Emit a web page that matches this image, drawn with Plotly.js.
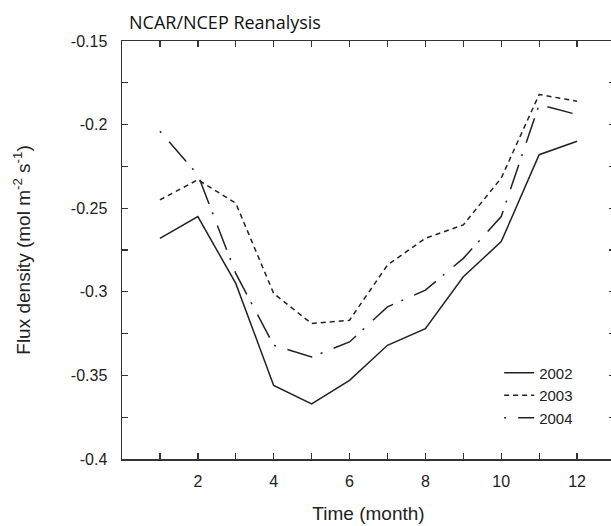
<!DOCTYPE html>
<html>
<head>
<meta charset="utf-8">
<script src="https://cdn.plot.ly/plotly-3.0.1.min.js"></script>
<style>
html, body { margin: 0; padding: 0; overflow: hidden; background: #fff; }
#chart { width: 620px; height: 526px; }
</style>
</head>
<body>
<div id="chart"></div>
<script>
const months = [1, 2, 3, 4, 5, 6, 7, 8, 9, 10, 11, 12];
const flux2002 = [-0.268, -0.255, -0.295, -0.356, -0.367, -0.353, -0.332, -0.322, -0.291, -0.270, -0.218, -0.210];
const flux2003 = [-0.245, -0.233, -0.247, -0.301, -0.319, -0.317, -0.284, -0.268, -0.260, -0.232, -0.182, -0.186];
const flux2004 = [-0.204, -0.230, -0.289, -0.332, -0.339, -0.330, -0.309, -0.299, -0.280, -0.255, -0.188, -0.194];
const seriesNames = ['2002', '2003', '2004'];
const xTickVals = [2, 4, 6, 8, 10, 12];
const xTickText = ['2', '4', '6', '8', '10', '12'];
const yTickVals = [-0.4, -0.35, -0.3, -0.25, -0.2, -0.15];
const yTickText = ['-0.4', '-0.35', '-0.3', '-0.25', '-0.2', '-0.15'];

const lineColor = '#222';
const traces = [
  {x: months, y: flux2002, name: seriesNames[0], mode: 'lines',
   line: {color: lineColor, width: 1.5, dash: 'solid'}},
  {x: months, y: flux2003, name: seriesNames[1], mode: 'lines',
   line: {color: lineColor, width: 1.5, dash: '5px,4px'}},
  {x: months, y: flux2004, name: seriesNames[2], mode: 'lines',
   line: {color: lineColor, width: 1.5, dash: '2px,12px,26px,9px'}}
];

const sans = 'Liberation Sans, Arial, Helvetica, sans-serif';
const axisFont = {family: sans, size: 16, color: '#222'};
const titleFont = {family: sans, size: 19, color: '#222'};
const layout = {
  width: 620, height: 526,
  margin: {l: 122, r: 5, t: 41, b: 67},
  paper_bgcolor: '#fff', plot_bgcolor: '#fff',
  showlegend: true,
  title: {
    text: 'NCAR/NCEP Reanalysis',
    font: {family: 'Open Sans, Noto Sans, sans-serif', size: 18, color: '#111'},
    xref: 'container', x: 129 / 620, xanchor: 'left',
    yref: 'container', y: 1 - 23 / 526, yanchor: 'middle'
  },
  xaxis: {
    range: [0, 13], tickmode: 'array', tickvals: xTickVals, ticktext: xTickText,
    ticks: 'inside', ticklen: 6, tickwidth: 1.3, tickcolor: '#333',
    minor: {tickmode: 'linear', tick0: 1, dtick: 1, ticks: 'inside', ticklen: 6, tickcolor: '#333', tickwidth: 1.3, showgrid: false},
    showline: true, linecolor: '#333', linewidth: 1.5, mirror: 'ticks',
    showgrid: false, zeroline: false, tickfont: axisFont, ticklabelstandoff: 7,
    title: {text: 'Time (month)', font: titleFont, standoff: 18}
  },
  yaxis: {
    range: [-0.4, -0.15], tickmode: 'array', tickvals: yTickVals, ticktext: yTickText,
    ticks: 'inside', ticklen: 6, tickwidth: 1.3, tickcolor: '#333',
    minor: {tickmode: 'linear', tick0: -0.4, dtick: 0.025, ticks: 'inside', ticklen: 6, tickcolor: '#333', tickwidth: 1.3, showgrid: false},
    showline: true, linecolor: '#333', linewidth: 1.5, mirror: 'ticks',
    showgrid: false, zeroline: false, tickfont: axisFont, ticklabelstandoff: 10,
    title: {text: 'Flux density (mol m<sup>-2</sup> s<sup>-1</sup>)', font: titleFont, standoff: 35}
  },
  legend: {
    x: 0.765, y: 0.245, xanchor: 'left', yanchor: 'top',
    bgcolor: 'rgba(0,0,0,0)', borderwidth: 0,
    font: {family: sans, size: 15, color: '#222'},
    tracegroupgap: 0
  }
};

Plotly.newPlot('chart', traces, layout, {displayModeBar: false, staticPlot: true});
</script>
</body>
</html>
